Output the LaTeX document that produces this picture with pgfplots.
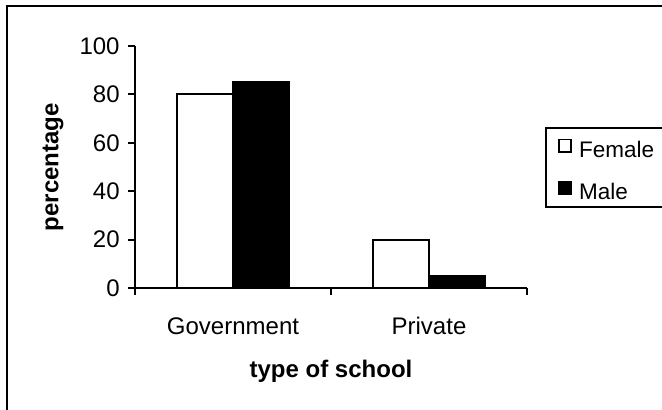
\documentclass[border=0pt]{standalone}
\usepackage{pgfplots}
\pgfplotsset{compat=1.18}
\usepackage{fontspec}
\setmainfont{Liberation Sans}
\begin{document}
\fontsize{12}{14.4}\selectfont
\begin{tikzpicture}
\useasboundingbox (0,0) rectangle (331pt,204.5pt);
\draw[line width=1pt] (3.5pt,-5pt) -- (3.5pt,201.5pt) -- (340pt,201.5pt);
\begin{axis}[
  at={(67.5pt,60.5pt)}, anchor=south west,
  scale only axis, width=196pt, height=121pt,
  ymin=0, ymax=100, xmin=-0.5, xmax=1.5,
  axis x line*=bottom, axis y line*=left,
  axis line style={line width=1pt, -},
  ytick={0,20,40,60,80,100},
  xtick={0,1}, xticklabels={Government,Private},
  minor xtick={-0.5,0.5,1.5},
  major x tick style={draw=none},
  minor x tick style={line width=1pt, black},
  y tick style={line width=1pt, black},
  tick align=outside, major tick length=3.5pt, minor tick length=3.5pt,
  /pgf/number format/assume math mode=true,
  ticklabel style={font=\fontsize{12}{14.4}\selectfont},
  yticklabel style={xshift=0pt},
  xticklabel style={yshift=-7pt},
  xlabel={\textbf{type of school}},
  ylabel={\textbf{percentage}},
  label style={font=\fontsize{12}{14.4}\selectfont},
  xlabel style={at={(axis description cs:0.5,-0.343)}, anchor=center},
  ylabel style={at={(axis description cs:-0.209,0.5)}, anchor=center},
  ybar=0pt, bar width=28pt,
  legend style={at={(1.046,0.665)}, anchor=north west, draw=black, line width=1pt,
    font=\fontsize{11.25}{13.5}\selectfont, inner xsep=0pt, inner ysep=2pt, row sep=6.5pt,
    nodes={inner ysep=0pt, text height=12.5pt, text depth=2pt},
    legend cell align=left, text width=60pt},
  legend image code/.code={\path[draw=none,fill=none] (0pt,0pt) -- (14.5pt,0pt);
    \draw[#1, line width=0.7pt] (6.5pt,-2.7pt) rectangle (12.5pt,3.5pt);},
]
\addplot[draw=black, line width=1pt, fill=white] coordinates {(0,80) (1,20)};
\addplot[draw=black, line width=1pt, fill=black] coordinates {(0,85) (1,5)};
\legend{Female, Male}
\end{axis}
\end{tikzpicture}
\end{document}
